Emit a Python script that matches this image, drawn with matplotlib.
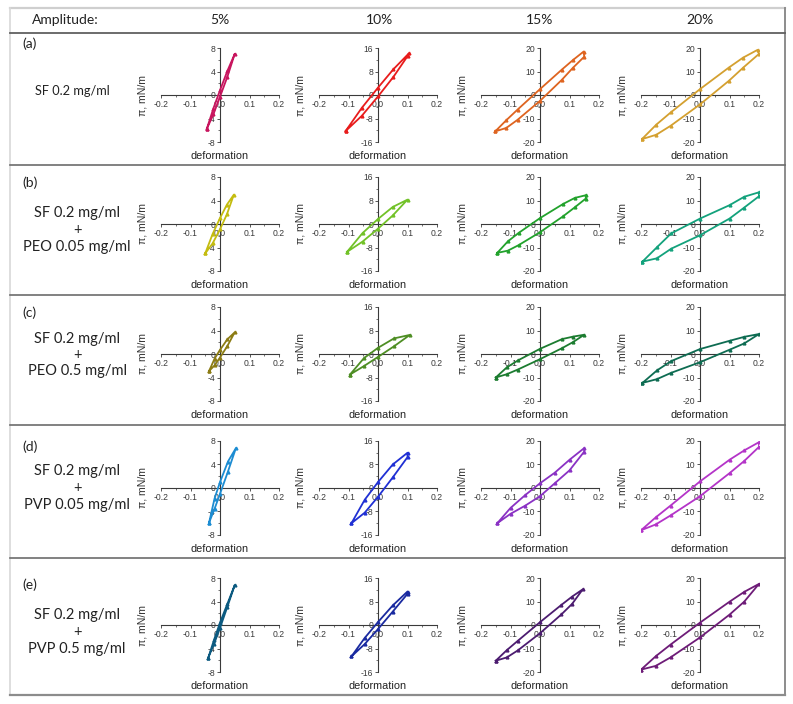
import matplotlib
matplotlib.use('Agg')
import matplotlib.pyplot as plt
from matplotlib.ticker import MultipleLocator, FixedLocator

# ---------------- data ----------------
amplitudes = ['5%', '10%', '15%', '20%']
row_tags = ['(a)', '(b)', '(c)', '(d)', '(e)']
row_lines = [
    ['SF 0.2 mg/ml'],
    ['SF 0.2 mg/ml', '+', 'PEO 0.05 mg/ml'],
    ['SF 0.2 mg/ml', '+', 'PEO 0.5 mg/ml'],
    ['SF 0.2 mg/ml', '+', 'PVP 0.05 mg/ml'],
    ['SF 0.2 mg/ml', '+', 'PVP 0.5 mg/ml'],
]
x_ticks = [-0.2, -0.1, 0.0, 0.1, 0.2]
y_ticks_5 = [-8, -4, 0, 4, 8]
y_ticks_10 = [-16, -8, 0, 8, 16]
y_ticks_15 = [-20, -10, 0, 10, 20]
y_ticks_20 = [-20, -10, 0, 10, 20]

# row (a) SF 0.2 mg/ml
a5_x = [-0.045, -0.0225, 0, 0.025, 0.05, 0.025, 0, -0.0225, -0.045]
a5_y = [-5.8, -2.3, 0.8, 4.1, 7.0, 3.1, -0.3, -3.3, -5.8]
a10_x = [-0.11, -0.055, 0, 0.0525, 0.105, 0.1, 0.0525, 0, -0.055, -0.11]
a10_y = [-12.3, -4.4, 2.5, 8.8, 14.2, 13.2, 6.2, -0.5, -7.1, -12.3]
a15_x = [-0.152, -0.114, -0.076, 0, 0.074, 0.111, 0.148, 0.15, 0.111, 0.074, 0, -0.076, -0.114, -0.152]
a15_y = [-15.5, -10.7, -6.2, 2.5, 10.8, 14.8, 18.5, 16.3, 11.5, 6.45, -2.5, -10.55, -14.0, -15.5]
a20_x = [-0.197, -0.148, -0.099, 0, 0.098, 0.146, 0.195, 0.2, 0.146, 0.098, 0, -0.099, -0.148, -0.197]
a20_y = [-18.8, -12.6, -7.4, 2.5, 11.7, 15.9, 19.2, 17.5, 11.6, 6.05, -4.0, -13.05, -16.9, -18.8]

# row (b) SF + PEO 0.05 mg/ml
b5_x = [-0.05, -0.025, 0, 0.0235, 0.047, 0.0235, 0, -0.025, -0.05]
b5_y = [-5.0, -1.7, 1.0, 3.3, 5.0, 1.66, -0.9, -3.3, -5.0]
b10_x = [-0.105, -0.0525, 0, 0.05, 0.1, 0.05, 0, -0.0525, -0.105]
b10_y = [-9.5, -3.1, 1.7, 5.8, 8.3, 2.9, -1.6, -6.0, -9.5]
b15_x = [-0.145, -0.109, -0.0725, 0, 0.078, 0.118, 0.157, 0.155, 0.118, 0.078, 0, -0.0725, -0.109, -0.145]
b15_y = [-12.3, -7.4, -3.8, 2.5, 8.5, 11.1, 12.3, 10.8, 7.1, 3.25, -3.5, -9.0, -11.35, -12.3]
b20_x = [-0.195, -0.146, -0.0975, 0, 0.1, 0.15, 0.2, 0.2, 0.15, 0.1, 0, -0.0975, -0.146, -0.195]
b20_y = [-16.0, -9.9, -4.0, 2.3, 8.0, 11.6, 13.5, 11.8, 7.0, 2.3, -4.8, -10.5, -14.6, -16.0]

# row (c) SF + PEO 0.5 mg/ml
c5_x = [-0.037, -0.0185, 0, 0.025, 0.05, 0.025, 0, -0.0185, -0.037]
c5_y = [-2.9, -0.8, 0.7, 2.5, 3.7, 1.36, -0.6, -1.94, -2.9]
c10_x = [-0.095, -0.0475, 0, 0.054, 0.108, 0.054, 0, -0.0475, -0.095]
c10_y = [-7.0, -1.4, 2.1, 5.3, 6.5, 2.6, -1.0, -4.1, -7.0]
c15_x = [-0.15, -0.1125, -0.075, 0, 0.075, 0.1125, 0.15, 0.1125, 0.075, 0, -0.075, -0.1125, -0.15]
c15_y = [-10.0, -5.7, -2.75, 2.2, 6.35, 7.4, 8.2, 5.1, 2.5, -2.2, -6.6, -8.6, -10.0]
c20_x = [-0.195, -0.146, -0.0975, 0, 0.1, 0.15, 0.2, 0.15, 0.1, 0, -0.0975, -0.146, -0.195]
c20_y = [-12.3, -7.0, -3.0, 2.1, 5.6, 7.3, 8.5, 4.5, 1.8, -3.5, -8.0, -10.7, -12.3]

# row (d) SF + PVP 0.05 mg/ml
d5_x = [-0.037, -0.0185, 0, 0.027, 0.054, 0.027, 0, -0.0185, -0.037]
d5_y = [-5.9, -1.8, 1.0, 4.5, 6.8, 2.8, -1.0, -3.55, -5.9]
d10_x = [-0.09, -0.045, 0, 0.05, 0.1, 0.1, 0.05, 0, -0.045, -0.09]
d10_y = [-12.0, -4.0, 2.0, 8.0, 12.0, 10.5, 3.6, -3.0, -8.4, -12.0]
d15_x = [-0.145, -0.1, -0.05, 0, 0.05, 0.1, 0.15, 0.15, 0.1, 0.05, 0, -0.05, -0.1, -0.145]
d15_y = [-15.0, -8.5, -3.0, 2.0, 6.5, 12.0, 17.0, 15.5, 7.5, 2.0, -3.5, -7.5, -11.0, -15.0]
d20_x = [-0.2, -0.15, -0.1, 0, 0.1, 0.15, 0.2, 0.2, 0.15, 0.1, 0, -0.1, -0.15, -0.2]
d20_y = [-18.0, -12.5, -7.5, 2.8, 12.0, 16.0, 19.5, 17.5, 11.5, 6.3, -3.5, -11.7, -15.5, -18.0]

# row (e) SF + PVP 0.5 mg/ml
e5_x = [-0.04, -0.02, 0, 0.025, 0.05, 0.025, 0, -0.02, -0.04]
e5_y = [-5.6, -2.5, 0.4, 3.6, 6.8, 3.1, -0.5, -3.2, -5.6]
e10_x = [-0.09, -0.045, 0, 0.05, 0.1, 0.1, 0.05, 0, -0.045, -0.09]
e10_y = [-10.7, -4.4, 1.0, 6.65, 11.4, 10.6, 4.56, -1.4, -6.5, -10.7]
e15_x = [-0.15, -0.1125, -0.075, 0, 0.0725, 0.109, 0.145, 0.109, 0.0725, 0, -0.075, -0.1125, -0.15]
e15_y = [-15.2, -10.7, -6.7, 1.2, 8.55, 12.1, 15.2, 9.0, 4.5, -3.5, -10.8, -13.8, -15.2]
e20_x = [-0.2, -0.15, -0.1, 0, 0.1, 0.15, 0.2, 0.15, 0.1, 0, -0.1, -0.15, -0.2]
e20_y = [-19.0, -13.3, -8.35, 1.0, 9.9, 14.1, 17.5, 9.94, 4.4, -5.3, -13.8, -17.4, -19.0]

loops = [
    [(a5_x, a5_y), (a10_x, a10_y), (a15_x, a15_y), (a20_x, a20_y)],
    [(b5_x, b5_y), (b10_x, b10_y), (b15_x, b15_y), (b20_x, b20_y)],
    [(c5_x, c5_y), (c10_x, c10_y), (c15_x, c15_y), (c20_x, c20_y)],
    [(d5_x, d5_y), (d10_x, d10_y), (d15_x, d15_y), (d20_x, d20_y)],
    [(e5_x, e5_y), (e10_x, e10_y), (e15_x, e15_y), (e20_x, e20_y)],
]
y_ticks = [y_ticks_5, y_ticks_10, y_ticks_15, y_ticks_20]

# ---------------- styles ----------------
colors = [
    ['#c8155e', '#e81c1c', '#de6420', '#d4a030'],
    ['#c4bc10', '#72c228', '#22a22c', '#13a27c'],
    ['#8c7c14', '#4e8e24', '#1c7c30', '#0e6c52'],
    ['#1c8cd2', '#2030d4', '#8a32c4', '#b434c8'],
    ['#0c5a80', '#1a2aa0', '#4c1c70', '#6e1c78'],
]

W, H = 793, 704
fig = plt.figure(figsize=(W / 100, H / 100), dpi=100)
fig.patch.set_facecolor('white')
bg = fig.add_axes([0, 0, 1, 1])
bg.set_xlim(0, W)
bg.set_ylim(H, 0)
bg.axis('off')

TXT = 'Lato'
# table frame
bg.plot([10, 785], [8, 8], color='#cfcfcf', lw=1.6)
bg.plot([10, 10], [8, 695], color='#d8d8d8', lw=1.2)
bg.plot([785, 785], [8, 695], color='#8c8c8c', lw=1.4)
bg.plot([10, 785], [695, 695], color='#8c8c8c', lw=1.6)
bg.plot([10, 785], [33, 33], color='#606060', lw=1.3)
row_bounds = [33, 165, 295, 425, 558, 695]
for yb in row_bounds[1:-1]:
    bg.plot([10, 785], [yb, yb], color='#6c6c6c', lw=1.2)

col_centers = [220, 379, 540, 700]
bg.text(65, 20, 'Amplitude:', fontsize=10, family=TXT, ha='center', va='center', color='#222222')
for cx, lab in zip(col_centers, amplitudes):
    bg.text(cx, 20, lab, fontsize=10, family=TXT, ha='center', va='center', color='#222222')

tag_y = [44, 183, 313, 447, 585]
text_center_y = [91, 230, 355, 488, 632]
for r in range(5):
    bg.text(22, tag_y[r], row_tags[r], fontsize=10, family=TXT, ha='left', va='center', color='#222222')
    lines = row_lines[r]
    if len(lines) == 1:
        bg.text(72, text_center_y[r], lines[0], fontsize=9.2, family=TXT, ha='center',
                va='center', color='#222222')
    else:
        for k, ln in enumerate(lines):
            bg.text(77, text_center_y[r] + (k - 1) * 16.5, ln, fontsize=10.5, family=TXT,
                    ha='center', va='center', color='#222222')

col_lefts = [161, 319, 481, 641]
row_tops = [48, 177, 307, 441, 578]
AW, AH = 118, 94
AX_FONT = 'Liberation Sans'
for r in range(5):
    for c in range(4):
        left, top = col_lefts[c], row_tops[r]
        ax = fig.add_axes([left / W, 1 - (top + AH) / H, AW / W, AH / H])
        ax.patch.set_alpha(0)
        xs, ys = loops[r][c]
        ax.plot(xs, ys, color=colors[r][c], lw=1.3, marker='^', ms=2.0, zorder=3)
        yt = y_ticks[c]
        ax.set_xlim(-0.2, 0.2)
        ax.set_ylim(yt[0], yt[-1])
        ax.spines['left'].set_position('zero')
        ax.spines['bottom'].set_position('zero')
        ax.spines['top'].set_visible(False)
        ax.spines['right'].set_visible(False)
        for s in ('left', 'bottom'):
            ax.spines[s].set_color('#3a3a3a')
            ax.spines[s].set_linewidth(0.8)
        ax.xaxis.set_major_locator(FixedLocator(x_ticks))
        ax.yaxis.set_major_locator(FixedLocator(yt))
        ax.xaxis.set_minor_locator(MultipleLocator(0.05))
        ax.yaxis.set_minor_locator(MultipleLocator((yt[1] - yt[0]) / 2))
        ax.set_xticklabels(['-0.2', '-0.1', '0.0', '0.1', '0.2'])
        ax.set_yticklabels([str(v) for v in yt])
        ax.tick_params(which='major', direction='out', length=2.2, width=0.6,
                       labelsize=6.2, colors='#3a3a3a', pad=1.2)
        ax.tick_params(which='minor', direction='out', length=1.2, width=0.5, colors='#3a3a3a')
        for lab in ax.get_xticklabels() + ax.get_yticklabels():
            lab.set_family(AX_FONT)
        ax.text(-0.155, 0.5, 'π, mN/m', transform=ax.transAxes, rotation=90, ha='center',
                va='center', fontsize=7.6, family=AX_FONT, color='#333333')
        ax.text(0.5, -0.15, 'deformation', transform=ax.transAxes, ha='center', va='center',
                fontsize=7.8, family=AX_FONT, color='#222222')

fig.savefig('out.png', dpi=100)
